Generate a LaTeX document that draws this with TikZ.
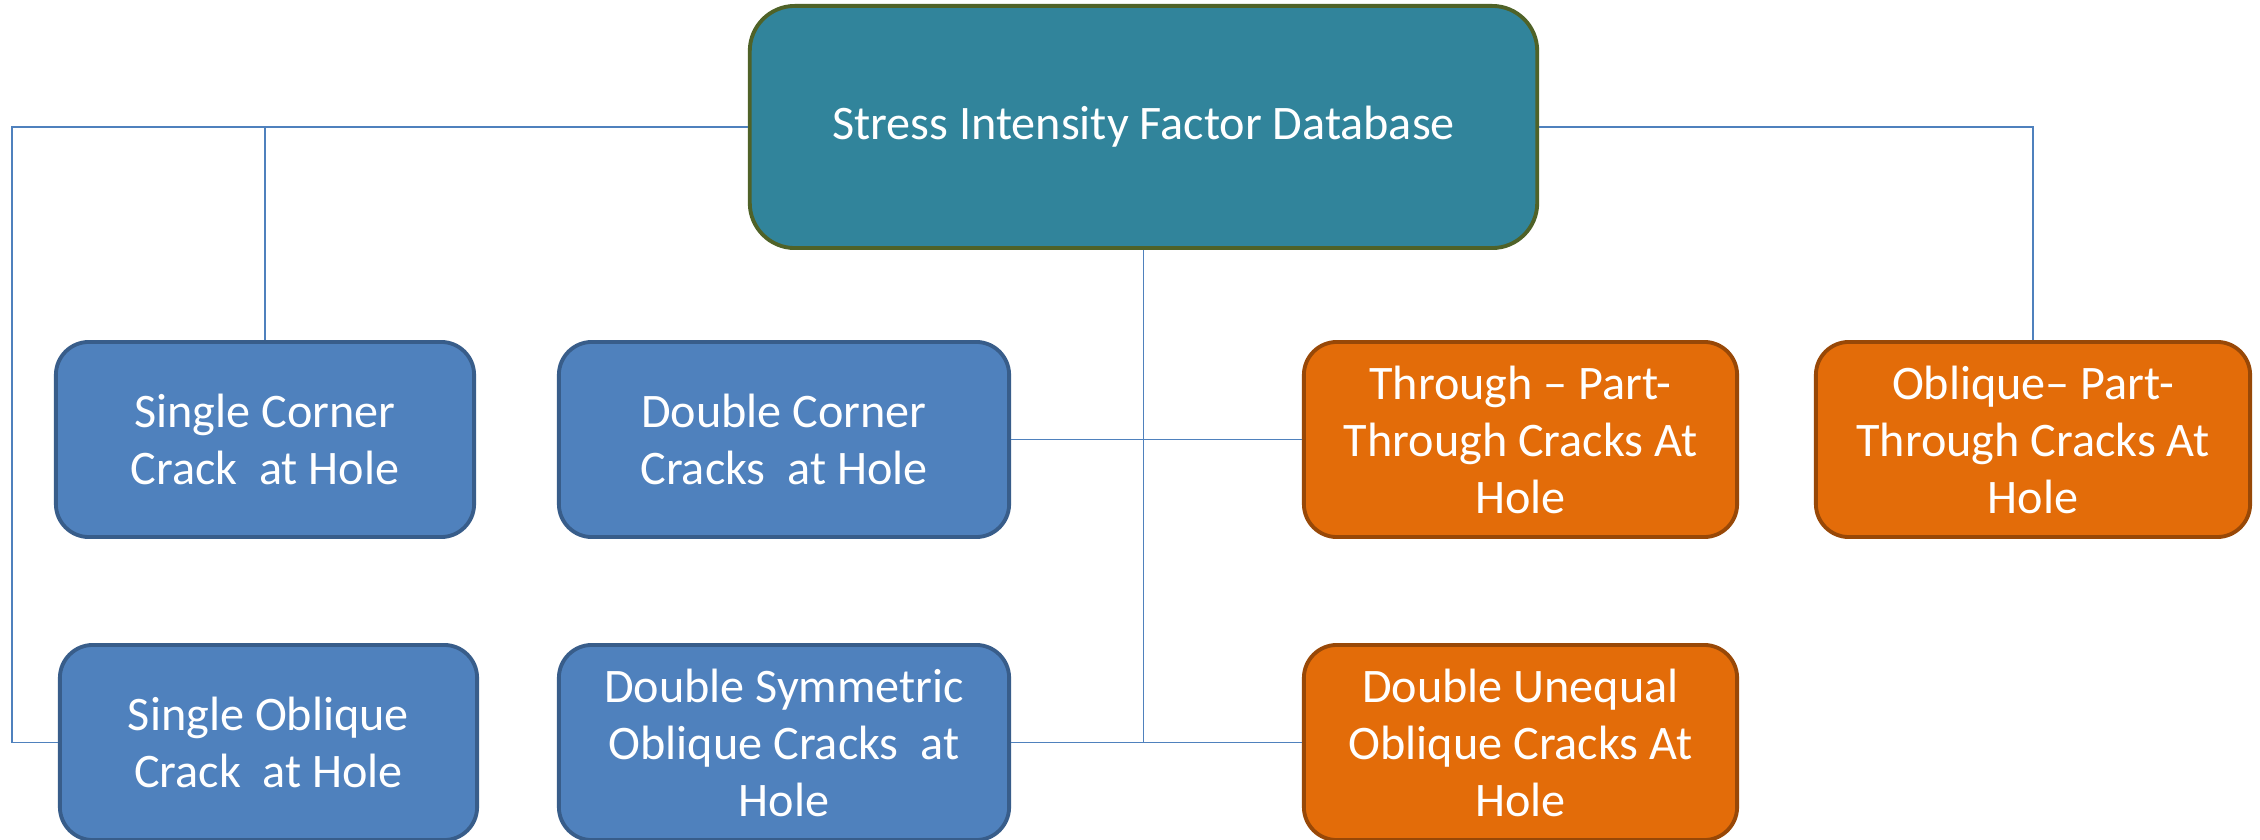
\documentclass[tikz,border=0pt]{standalone}
\usepackage{fontspec}
\setmainfont{Carlito}
\definecolor{rootfill}{HTML}{31849B}
\definecolor{rootline}{HTML}{4F6228}
\definecolor{bluefill}{HTML}{4F81BD}
\definecolor{blueline}{HTML}{385D8A}
\definecolor{orangefill}{HTML}{E36C09}
\definecolor{orangeline}{HTML}{984807}

\begin{document}
\begin{tikzpicture}[x=0.01cm, y=-0.01cm,
    box/.style={draw, line width=1.1pt, rounded corners=0.33cm, align=center, text=white,
                minimum height=1.95cm, inner sep=0pt,
                font=\fontsize{13.7}{16.2}\selectfont},
    bluebox/.style={box, fill=bluefill, draw=blueline},
    orangebox/.style={box, fill=orangefill, draw=orangeline},
    link/.style={draw=bluefill, line width=0.5pt}]
    \useasboundingbox (0, 0) rectangle (2260, 840);

    \node [box, fill=rootfill, draw=rootline, rounded corners=0.45cm, minimum width=7.87cm, minimum height=2.42cm]
        (root) at (1143.5, 127) {Stress Intensity Factor Database};

    \node [bluebox, minimum width=4.18cm] (SC) at (265, 439.5) {Single Corner\\Crack~ at Hole};
    \node [bluebox, minimum width=4.5cm] (DC) at (784, 439.5) {Double Corner\\Cracks~ at Hole};
    \node [orangebox, minimum width=4.33cm] (TP) at (1520.5, 439.5) {Through -- Part-\\Through Cracks At\\Hole};
    \node [orangebox, minimum width=4.34cm] (OP) at (2033, 439.5) {Oblique-- Part-\\Through Cracks At\\Hole};
    \node [bluebox, minimum width=4.17cm] (SO) at (268.5, 742.5) {Single Oblique\\Crack~ at Hole};
    \node [bluebox, minimum width=4.5cm] (DS) at (784, 742.5) {Double Symmetric\\Oblique Cracks~ at\\Hole};
    \node [orangebox, minimum width=4.33cm] (DU) at (1520.5, 742.5) {Double Unequal\\Oblique Cracks At\\Hole};

    \coordinate (lft) at (12, 127);
    \draw [link] (root.west) -- (lft) |- (SO.west);
    \draw [link] (SC.north) |- (root.west);
    \draw [link] (root.east) -| (OP.north);
    \draw [link] (root.south) |- (DS.east);
    \draw [link] (root.south) |- (DU.west);
    \draw [link] (DC.east) -- (TP.west);

\end{tikzpicture}
\end{document}
